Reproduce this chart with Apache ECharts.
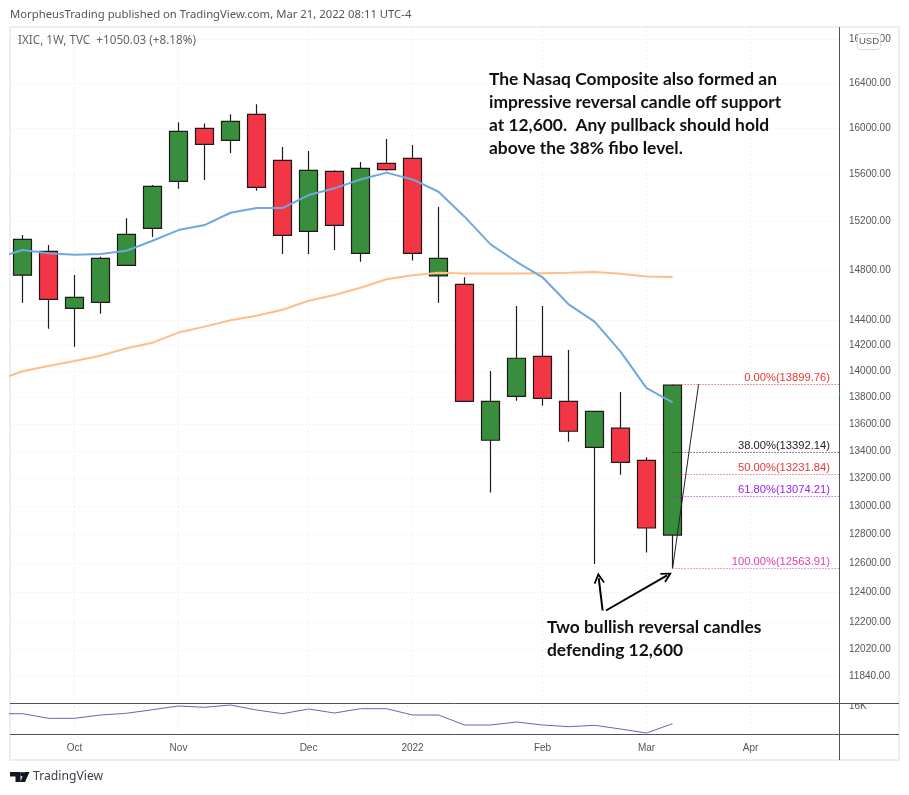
<!DOCTYPE html>
<html>
<head>
<meta charset="utf-8">
<script src="https://cdn.jsdelivr.net/npm/echarts@6/dist/echarts.min.js"></script>
<style>
  html, body { margin: 0; padding: 0; background: #fff; }
  #main { width: 909px; height: 795px; }
</style>
</head>
<body>
<div id="main"></div>
<script>
const weekDates = [
  '2021-09-20', '2021-09-27', '2021-10-04', '2021-10-11', '2021-10-18', '2021-10-25',
  '2021-11-01', '2021-11-08', '2021-11-15', '2021-11-22', '2021-11-29', '2021-12-06',
  '2021-12-13', '2021-12-20', '2021-12-27', '2022-01-03', '2022-01-10', '2022-01-17',
  '2022-01-24', '2022-01-31', '2022-02-07', '2022-02-14', '2022-02-21', '2022-02-28',
  '2022-03-07', '2022-03-14'
];
const opens = [14758, 14952, 14492, 14540, 14838, 15142, 15539, 15997, 15892, 16121, 15719, 15117, 15624,
  14936, 15693, 15736, 14752, 14684, 13479, 13808, 14115, 13770, 13427, 13569, 13331, 12795];
const closes = [15051, 14564, 14580, 14895, 15093, 15496, 15971, 15858, 16058, 15488, 15084, 15633, 15167,
  15650, 15638, 14936, 14895, 13770, 13770, 14100, 13793, 13546, 13695, 13317, 12845, 13893];
const lows = [14536, 14330, 14190, 14449, 14838, 15070, 15476, 15550, 15782, 15459, 14930, 14930, 14963,
  14867, 15630, 14877, 14536, 13770, 13097, 13775, 13737, 13468, 12593, 13226, 12673, 12564];
const highs = [15087, 15004, 14760, 14908, 15226, 15507, 16050, 16041, 16121, 16210, 15834, 15799, 15633,
  15704, 15904, 15852, 15321, 14741, 14002, 14510, 14510, 14164, 13695, 13841, 13353, 13900];

// moving averages and lower pane start one week before the first candle
const blueAvg = [14897, 14963, 14936, 14924, 14930, 14957, 15040, 15128, 15170, 15273, 15312, 15312, 15422,
  15479, 15555, 15613, 15555, 15450, 15240, 15010, 14867, 14741, 14524, 14386, 14151, 13871, 13763];
const orangeAvg = [13928, 14000, 14040, 14079, 14120, 14177, 14221, 14300, 14347, 14397, 14433, 14481, 14552,
  14598, 14657, 14725, 14758, 14777, 14771, 14771, 14771, 14774, 14777, 14783, 14769, 14747, 14743];
const lowerLine = [15112, 15112, 14560, 14560, 14956, 15160, 15592, 16036, 15880, 16156, 15556, 15112, 15676,
  15196, 15712, 15712, 14956, 14956, 13756, 13756, 14116, 13756, 13552, 13720, 13276, 12796, 13912];

const priceTicks = [16800, 16400, 16000, 15600, 15200, 14800, 14400, 14200, 14000, 13800, 13600, 13400,
  13200, 13000, 12800, 12600, 12400, 12200, 12020, 11840];
const monthTicks = [2, 6, 11, 15, 20, 24, 28];
const monthLabels = ['Oct', 'Nov', 'Dec', '2022', 'Feb', 'Mar', 'Apr'];

const fibPercents = ['0.00', '38.00', '50.00', '61.80', '100.00'];
const fibPrices = [13899.76, 13392.14, 13231.84, 13074.21, 12563.91];
const fibColors = ['#e53935', '#222222', '#e53935', '#a020f0', '#e040b0'];

const headerText = 'MorpheusTrading published on TradingView.com, Mar 21, 2022 08:11 UTC-4';
const symbolText = 'IXIC, 1W, TVC  +1050.03 (+8.18%)';
const noteTop = [
  'The Nasaq Composite also formed an',
  'impressive reversal candle off support',
  'at 12,600.  Any pullback should hold',
  'above the 38% fibo level.'
];
const noteBottom = ['Two bullish reversal candles', 'defending 12,600'];

const chart = echarts.init(document.getElementById('main'));

const candleData = weekDates.map((d, i) => [i, opens[i], closes[i], lows[i], highs[i]]);
const withLead = arr => arr.map((v, i) => [i - 1, v]);

const chevron = 'path://M0,9.6 L5,0 L10,9.6 L8.6,10.4 L5,3.6 L1.4,10.4 Z';
const gridColor = '#e4e5ea';
const paneColor = '#50535e';
const frameColor = '#eceef4';
const tickFont = { fontFamily: 'Liberation Sans', fontSize: 10, color: '#555' };

function xAxisBase(gridIndex, showLabel) {
  return {
    type: 'value',
    gridIndex: gridIndex,
    min: -0.48,
    max: 31.4,
    axisLine: { show: false },
    axisTick: { show: false, customValues: monthTicks },
    splitLine: { show: true, lineStyle: { color: gridColor, type: [1, 3] } },
    axisLabel: {
      show: showLabel,
      customValues: monthTicks,
      margin: 9,
      hideOverlap: false,
      showMinLabel: true,
      showMaxLabel: true,
      formatter: v => monthLabels[monthTicks.indexOf(v)] || '',
      ...tickFont
    }
  };
}

chart.setOption({
  animation: false,
  backgroundColor: '#fff',
  grid: [
    { left: 10, right: 70, top: 27, height: 676 },
    { left: 10, right: 70, top: 703, height: 31 }
  ],
  xAxis: [xAxisBase(0, false), xAxisBase(1, true)],
  yAxis: [
    {
      type: 'log',
      gridIndex: 0,
      position: 'right',
      min: 11668,
      max: 16913,
      axisLine: { show: false },
      axisTick: { show: false, customValues: priceTicks },
      splitLine: { show: true, lineStyle: { color: gridColor, type: [1, 3] } },
      axisLabel: {
        customValues: priceTicks,
        margin: 10,
        showMinLabel: true,
        showMaxLabel: true,
        formatter: v => Number(v).toFixed(2),
        ...tickFont
      }
    },
    {
      type: 'value',
      gridIndex: 1,
      position: 'right',
      min: 12676,
      max: 16396,
      axisLine: { show: false },
      axisTick: { show: false, customValues: [16000] },
      splitLine: { show: true, lineStyle: { color: gridColor, type: [1, 3] } },
      axisLabel: {
        customValues: [16000],
        margin: 10,
        formatter: () => '16K',
        ...tickFont
      }
    }
  ],
  series: [
    {
      type: 'candlestick',
      xAxisIndex: 0,
      yAxisIndex: 0,
      barWidth: 18,
      data: candleData,
      itemStyle: {
        color: '#388e3c',
        color0: '#f23645',
        borderColor: '#1f1a1a',
        borderColor0: '#1f1a1a',
        borderWidth: 1.2
      },
      z: 2
    },
    {
      type: 'line',
      name: 'slow',
      xAxisIndex: 0,
      yAxisIndex: 0,
      data: withLead(orangeAvg),
      showSymbol: false,
      lineStyle: { color: '#ffbd8a', width: 2 },
      z: 3,
      markLine: {
        silent: true,
        symbol: 'none',
        animation: false,
        data: fibPrices.map((p, i) => [
          {
            coord: [25, p],
            lineStyle: { color: fibColors[i], type: [1, 2], width: 1 },
            label: {
              show: true,
              position: 'insideEndTop',
              distance: [9, 0.5],
              formatter: fibPercents[i] + '%(' + p.toFixed(2) + ')',
              color: fibColors[i],
              fontFamily: 'Liberation Sans',
              fontSize: 11.2
            }
          },
          { coord: [31.4, p] }
        ])
      }
    },
    {
      type: 'line',
      name: 'fast',
      xAxisIndex: 0,
      yAxisIndex: 0,
      data: withLead(blueAvg),
      showSymbol: false,
      lineStyle: { color: '#6fa8dc', width: 2 },
      z: 4,
      markLine: {
        silent: true,
        symbol: ['none', chevron],
        symbolSize: 11,
        animation: false,
        label: { show: false },
        lineStyle: { color: '#000', type: 'solid', width: 2 },
        data: [
          [{ coord: [22.31, 12276] }, { coord: [22.16, 12497] }],
          [{ coord: [22.44, 12276] }, { coord: [24.79, 12515] }],
          [
            { coord: [25, 12564], symbol: 'none', lineStyle: { color: '#222', width: 1, type: 'solid' } },
            { coord: [26, 13899.76], symbol: 'none' }
          ]
        ]
      }
    },
    {
      type: 'line',
      xAxisIndex: 1,
      yAxisIndex: 1,
      data: withLead(lowerLine),
      showSymbol: false,
      lineStyle: { color: '#6a62b8', width: 1 }
    }
  ],
  graphic: [
    { type: 'rect', silent: true, z: 0, shape: { x: 10, y: 27, width: 889, height: 733 },
      style: { fill: 'none', stroke: frameColor, lineWidth: 2 } },
    // the 16K label is cut off by the pane divider
    { type: 'rect', silent: true, z: 4, shape: { x: 845, y: 695, width: 30, height: 8.5 },
      style: { fill: '#fff' } },
    { type: 'line', silent: true, z: 5, shape: { x1: 839.5, y1: 27, x2: 839.5, y2: 760 },
      style: { stroke: paneColor, lineWidth: 1 } },
    { type: 'line', silent: true, z: 5, shape: { x1: 10, y1: 703.5, x2: 899, y2: 703.5 },
      style: { stroke: paneColor, lineWidth: 1 } },
    { type: 'line', silent: true, z: 5, shape: { x1: 10, y1: 734.5, x2: 899, y2: 734.5 },
      style: { stroke: paneColor, lineWidth: 1 } },
    { type: 'text', silent: true, z: 6, style: { text: headerText, x: 10, y: 15, fill: '#555',
      font: '11.3px "Noto Sans"', textVerticalAlign: 'middle' } },
    { type: 'text', silent: true, z: 6, style: { text: symbolText, x: 18, y: 41, fill: '#666',
      font: '11.7px "Noto Sans"', textVerticalAlign: 'middle' } },
    { type: 'text', silent: true, z: 6, style: { text: noteTop.join('\n'), x: 489, y: 68, fill: '#111',
      font: 'bold 17.4px Lato', lineHeight: 23 } },
    { type: 'text', silent: true, z: 6, style: { text: noteBottom.join('\n'), x: 547, y: 616, fill: '#111',
      font: 'bold 17.4px Lato', lineHeight: 23 } },
    { type: 'rect', silent: true, z: 6, shape: { x: 857.5, y: 33.5, width: 23, height: 16, r: 3 },
      style: { fill: '#fff', stroke: '#d6d8e0', lineWidth: 1 } },
    { type: 'text', silent: true, z: 7, style: { text: 'USD', x: 869, y: 41.5, fill: '#555',
      font: '9.5px "Liberation Sans"', textAlign: 'center', textVerticalAlign: 'middle' } },
    // logo
    { type: 'polygon', silent: true, z: 6, shape: { points: [[10, 772], [20.5, 772], [20.5, 782], [15.5, 782], [15.5, 776.5], [10, 776.5]] },
      style: { fill: '#131722' } },
    { type: 'circle', silent: true, z: 6, shape: { cx: 22.4, cy: 774.2, r: 2.2 }, style: { fill: '#131722' } },
    { type: 'polygon', silent: true, z: 6, shape: { points: [[24.5, 772], [29.5, 772], [25, 782], [20, 782]] },
      style: { fill: '#131722' } },
    { type: 'text', silent: true, z: 6, style: { text: 'TradingView', x: 33, y: 777, fill: '#3a3e4a',
      font: '12.2px "Noto Sans"', textVerticalAlign: 'middle' } }
  ]
});
</script>
</body>
</html>
